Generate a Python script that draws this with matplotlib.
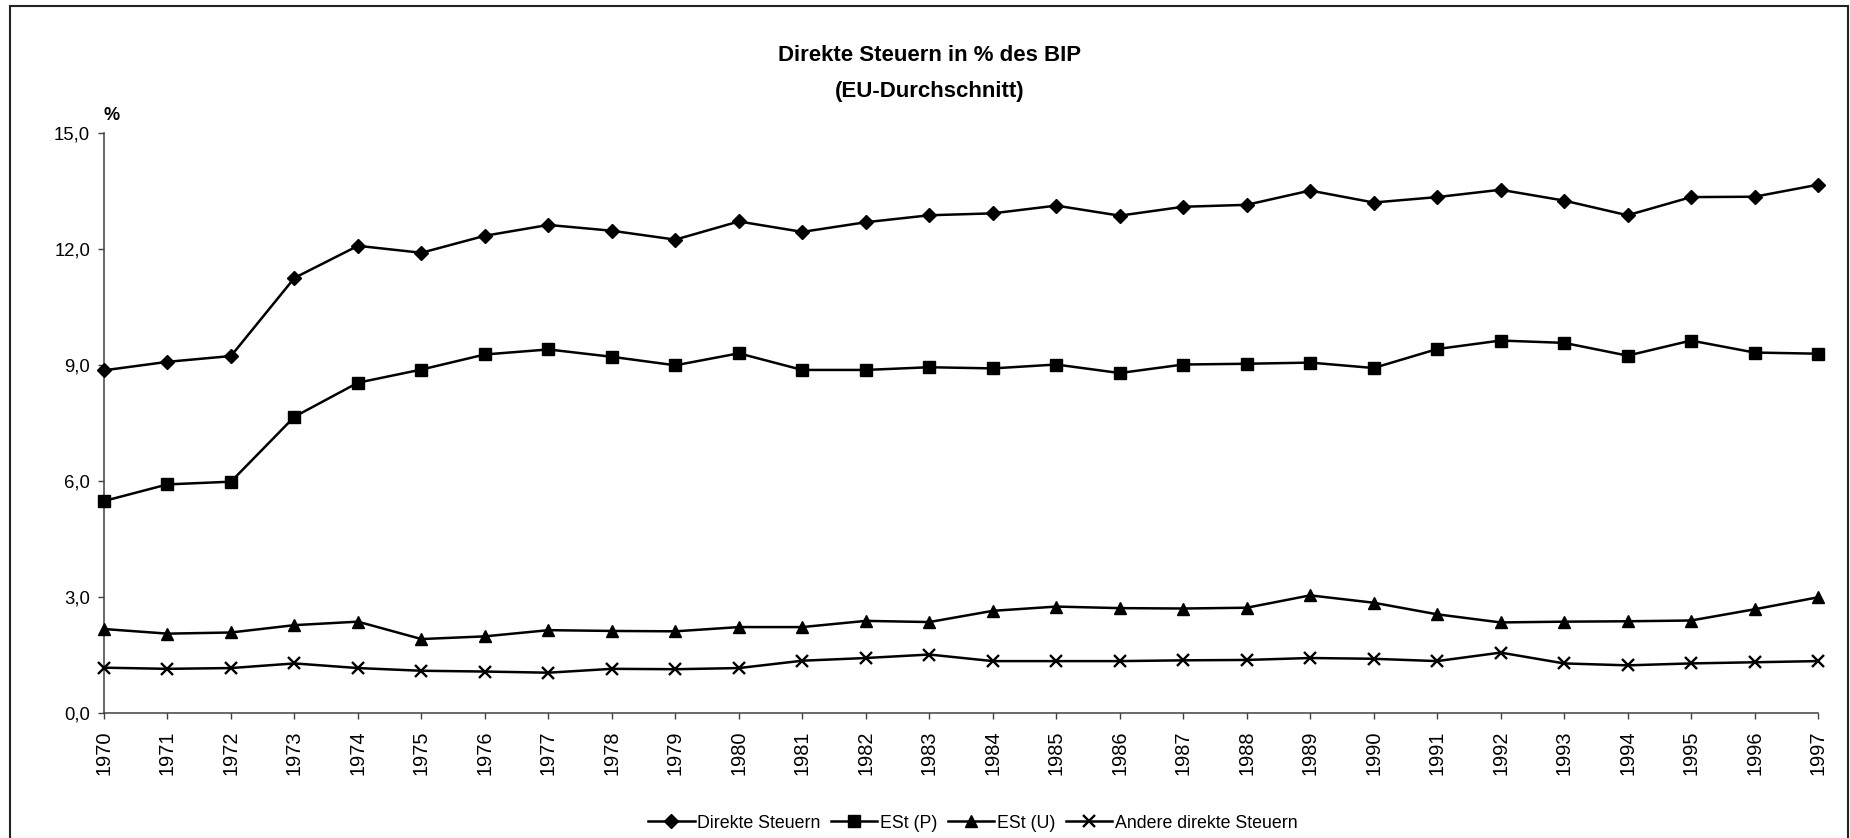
import matplotlib
matplotlib.use("Agg")
import matplotlib.pyplot as plt
from matplotlib.patches import Rectangle

plt.rcParams['font.family'] = ['Liberation Sans', 'DejaVu Sans']

# Daten (EU-Durchschnitt, in % des BIP)
years = list(range(1970, 1998))

direkte_steuern = [8.87, 9.09, 9.24, 11.26, 12.09, 11.91, 12.35,
                   12.63, 12.48, 12.25, 12.72, 12.45, 12.70, 12.88,
                   12.93, 13.13, 12.87, 13.10, 13.15, 13.52, 13.21,
                   13.35, 13.54, 13.26, 12.88, 13.35, 13.36, 13.67]

est_p = [5.49, 5.92, 5.99, 7.67, 8.55, 8.89, 9.28,
         9.41, 9.22, 9.00, 9.31, 8.88, 8.88, 8.95,
         8.92, 9.02, 8.80, 9.02, 9.04, 9.07, 8.93,
         9.42, 9.64, 9.58, 9.25, 9.64, 9.33, 9.30]

est_u = [2.18, 2.06, 2.09, 2.28, 2.37, 1.92, 1.99,
         2.15, 2.13, 2.12, 2.23, 2.23, 2.39, 2.36,
         2.65, 2.76, 2.72, 2.71, 2.73, 3.05, 2.86,
         2.56, 2.35, 2.37, 2.38, 2.40, 2.69, 3.00]

andere = [1.18, 1.15, 1.17, 1.29, 1.17, 1.10, 1.08,
          1.05, 1.15, 1.14, 1.17, 1.36, 1.43, 1.52,
          1.35, 1.35, 1.35, 1.37, 1.38, 1.43, 1.41,
          1.35, 1.57, 1.29, 1.24, 1.29, 1.32, 1.35]

y_ticks = [0, 3, 6, 9, 12, 15]
y_labels = ["0,0", "3,0", "6,0", "9,0", "12,0", "15,0"]

W, H = 1850, 838
fig = plt.figure(figsize=(W / 100, H / 100), dpi=100)
ax = fig.add_axes([104 / W, 1 - 713.3 / H, (1818 - 104) / W, 580 / H])

# Linien mit Markern, alles schwarz wie im Original
ax.plot(years, direkte_steuern, color='black', lw=1.8, marker='D', ms=7,
        label='Direkte Steuern', clip_on=False, zorder=3)
ax.plot(years, est_p, color='black', lw=1.8, marker='s', ms=8.5,
        label='ESt (P)', clip_on=False, zorder=3)
ax.plot(years, est_u, color='black', lw=1.8, marker='^', ms=8.5,
        label='ESt (U)', clip_on=False, zorder=3)
ax.plot(years, andere, color='black', lw=1.8, marker='x', ms=8.5, mew=1.7,
        label='Andere direkte Steuern', clip_on=False, zorder=3)

ax.set_xlim(1970, 1997)
ax.set_ylim(0, 15)

ax.set_xticks(years)
ax.set_xticklabels([str(y) for y in years], rotation=90, fontsize=14.4)
ax.set_yticks(y_ticks)
ax.set_yticklabels(y_labels, fontsize=13.3)

for side in ['top', 'right']:
    ax.spines[side].set_visible(False)
for side in ['left', 'bottom']:
    ax.spines[side].set_color('#404040')
    ax.spines[side].set_linewidth(1.1)

ax.tick_params(axis='x', direction='out', length=4.5, width=1, color='#404040', pad=8)
ax.tick_params(axis='y', direction='out', length=4, width=1, color='#404040', pad=6)

# Titel (zwei Zeilen)
fig.text(930 / W, 1 - 61 / H, 'Direkte Steuern in % des BIP', ha='center',
         va='baseline', fontsize=16, fontweight='bold')
fig.text(930 / W, 1 - 97 / H, '(EU-Durchschnitt)', ha='center',
         va='baseline', fontsize=16, fontweight='bold')

# Einheit oben an der y-Achse
fig.text(104 / W, 1 - 120 / H, '%', ha='left', va='baseline',
         fontsize=13, fontweight='bold')

fig.legend(loc='center', bbox_to_anchor=(973 / W, 1 - 823 / H), ncol=4,
           frameon=False, fontsize=12.8, handlelength=2.6, handletextpad=0.15,
           columnspacing=0.6, borderpad=0)

# Rahmen um das ganze Diagramm
fig.patches.append(Rectangle((10 / W, -0.02), (1848 - 10) / W, 1 - 6 / H + 0.02,
                             transform=fig.transFigure, fill=False,
                             edgecolor='#222222', linewidth=1.5))

fig.savefig('out.png', dpi=100)
